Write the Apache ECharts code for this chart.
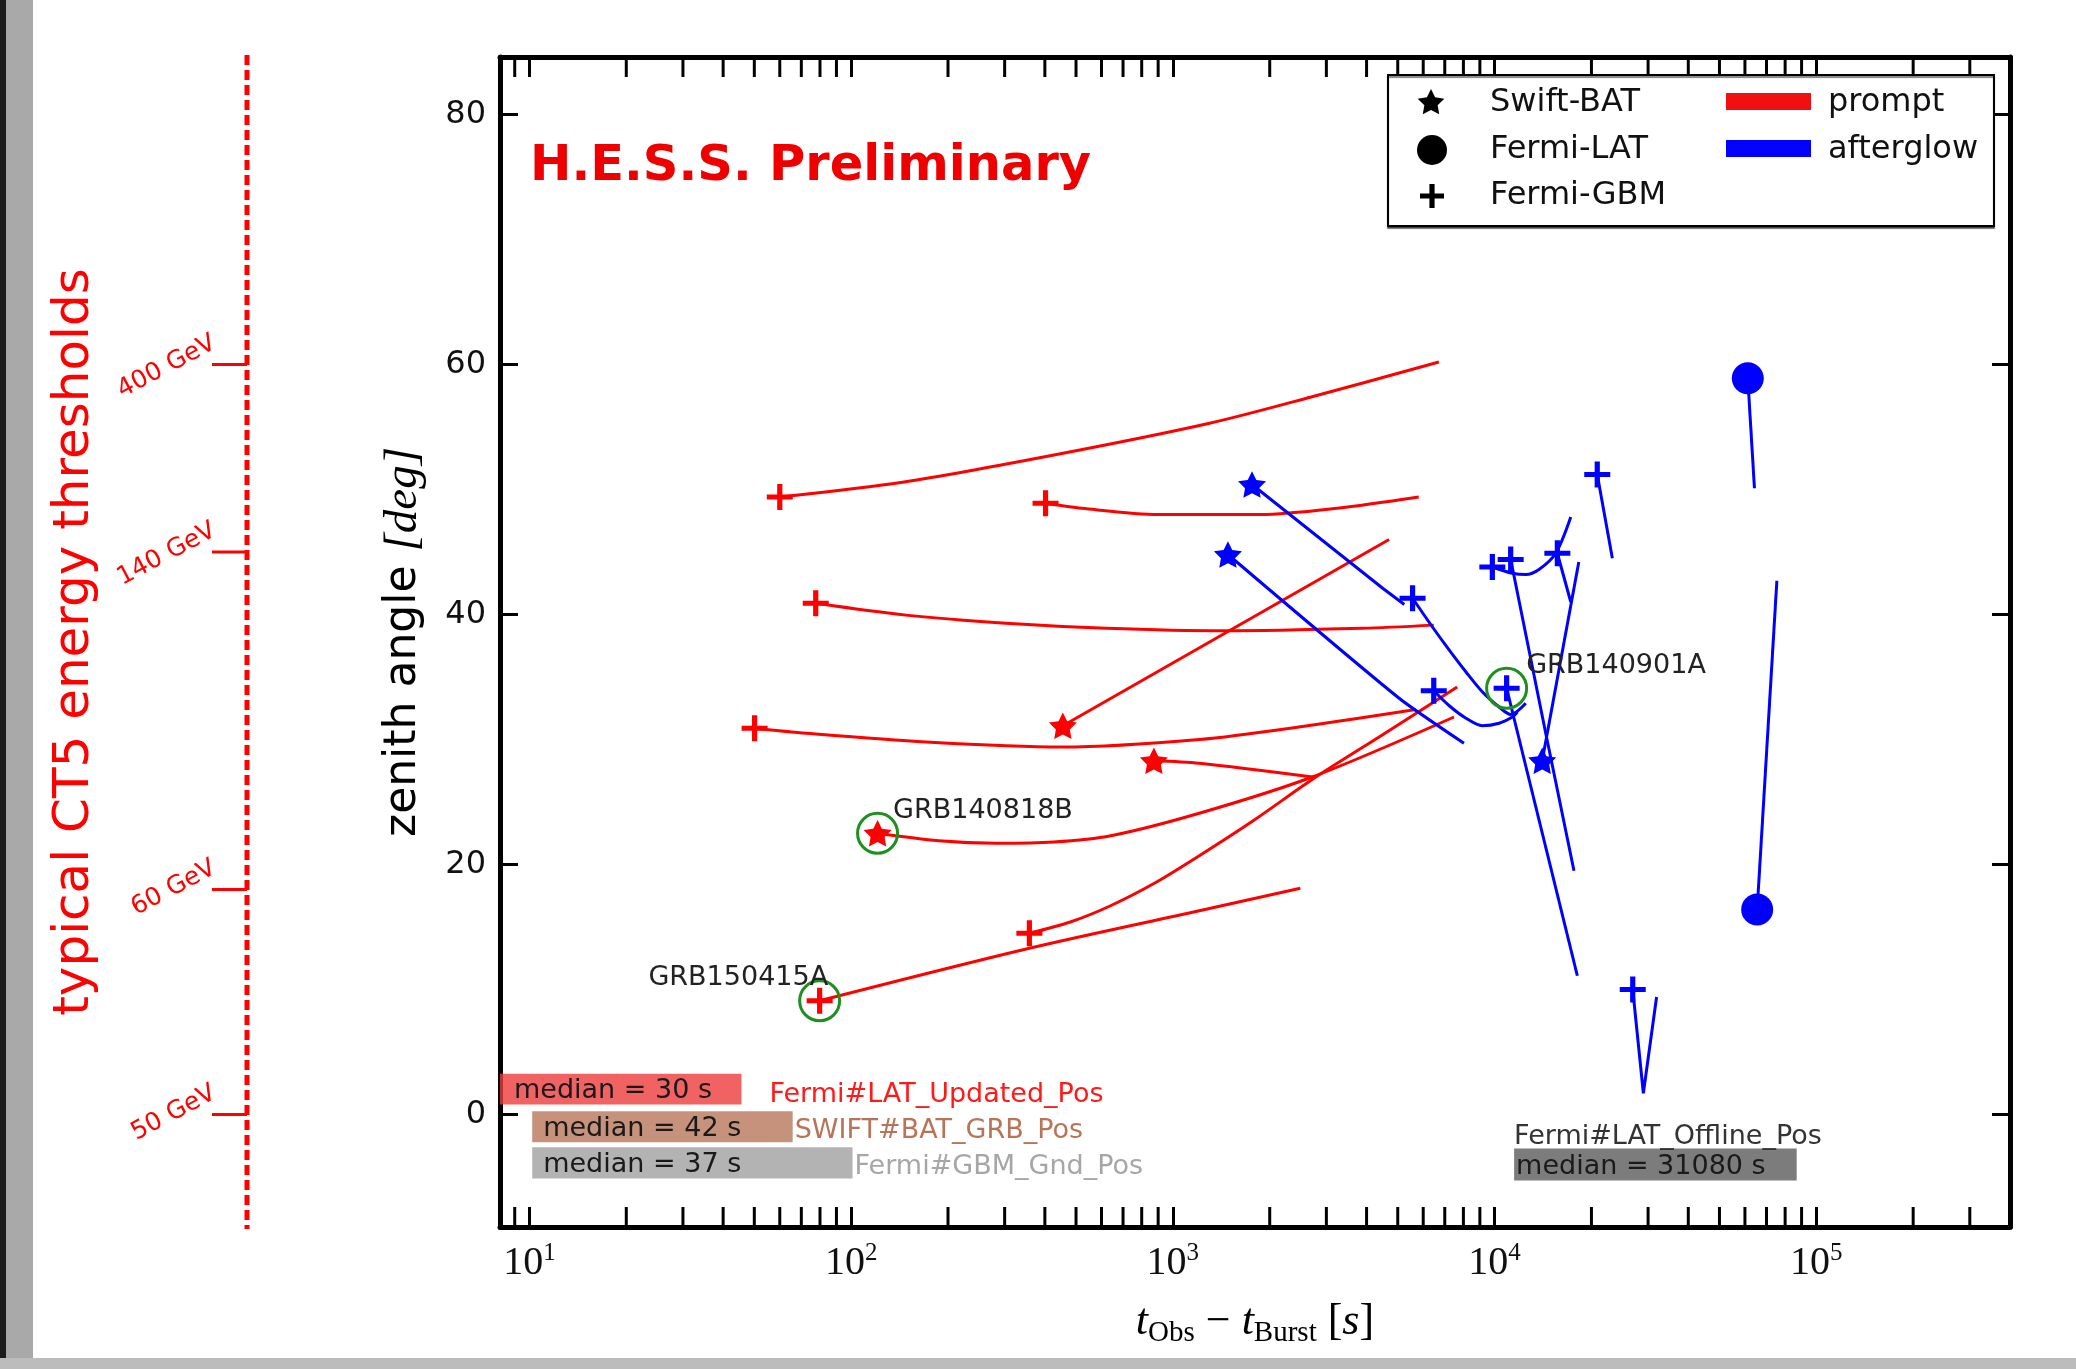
<!DOCTYPE html>
<html><head><meta charset="utf-8">
<script src="https://cdn.jsdelivr.net/npm/echarts@6/dist/echarts.min.js"></script>
<style>html,body{margin:0;padding:0;background:#fff;overflow:hidden}#c{width:2076px;height:1369px}</style>
</head><body><div id="c"></div>
<script>
// ---------------- DATA (x: t_Obs - t_Burst [s], y: zenith angle [deg]) ----------------
// prompt tracks (red)
const promptGBM1 = [[60,49.4],[146,50.6],[435,52.8],[1300,55.3],[2690,57.4],[6710,60.2]];
const promptGBM2 = [[402,48.9],[522,48.5],[902,48.0],[1870,48.0],[3240,48.5],[5810,49.4]];
const promptGBM3 = [[77.6,40.9],[148,39.95],[303,39.3],[621,38.9],[1430,38.7],[3880,38.9],[6470,39.15]];
const promptGBM4 = [[50.1,30.9],[72.6,30.5],[171,29.8],[450,29.4],[1208,30.0],[2620,31.1],[5690,32.4]];
const promptBAT1 = [[455,31.1],[4700,46.0]];
const promptBAT2 = [[873,28.3],[1208,28.1],[2716,27.0]];
const promptBAT3 = [[120.8,22.5],[187,21.9],[282,21.7],[426,21.8],[641,22.3],[1208,24.1],[2710,27.0],[7480,31.8]];
const promptGBM5 = [[358,14.5],[480,15.4],[640,16.7],[890,18.6],[1208,20.7],[1800,23.6],[2710,26.8],[4500,30.4],[7650,34.2]];
const promptGBM6 = [[79.8,9.1],[358,13.3],[1208,16.3],[2490,18.1]];
// afterglow tracks (blue)
const afterBAT1 = [[1762,50.4],[4490,42.1],[5240,40.8]];
const afterBAT2 = [[1483,44.8],[5050,33.3],[8030,29.7]];
const afterGBM1 = [[5560,41.3],[6410,39.0],[7230,37.15],[8150,35.4],[9170,33.8],[10330,32.6],[11220,32.0],[12500,32.9]];
const afterGBM2 = [[6470,33.9],[7230,32.7],[8150,31.7],[9170,31.1],[10330,31.3],[11350,31.8],[11780,32.2]];
const afterGBM3 = [[9840,43.8],[11350,43.3],[12500,43.2],[13740,43.6],[15490,44.9],[17250,47.8]];
const afterGBM4 = [[11220,44.4],[11510,43.0],[14420,30.5],[17650,19.5]];
const afterBAT3 = [[14060,28.3],[18270,44.2]];
const afterGBM5 = [[15670,44.9],[17250,41.0]];
const afterGBM6 = [[20850,51.2],[23230,44.5]];
const afterGBM7 = [[26880,10.0],[29000,1.7],[31880,9.4]];
const afterLAT1 = [[61240,58.9],[64230,50.1]];
const afterLAT2 = [[65490,16.4],[75400,42.7]];
const afterGBM8 = [[10900,34.1],[18080,11.1]];
// highlighted bursts
const grbNames = ['GRB140818B','GRB150415A','GRB140901A'];
const grbTracks = [promptBAT3, promptGBM6, afterGBM8];
// axis ticks
const yTicks = [0,20,40,60,80];
const xMinorTicks = [9,20,30,40,50,60,70,80,90,200,300,400,500,600,700,800,900,2000,3000,4000,5000,6000,7000,8000,9000,20000,30000,40000,50000,60000,70000,80000,90000,200000,300000];
// CT5 thresholds
const ct5Zenith = [60,45,18,0];
const ct5Labels = ['400 GeV','140 GeV','60 GeV','50 GeV'];
// median delay boxes
const medianTexts = ['median = 30 s','median = 42 s','median = 37 s','median = 31080 s'];
const medianSources = ['Fermi#LAT_Updated_Pos','SWIFT#BAT_GRB_Pos','Fermi#GBM_Gnd_Pos','Fermi#LAT_Offline_Pos'];
const medianX0 = [8.1,10.2,10.2,11500];
const medianX1 = [45.6,65.8,101,86900];
const medianY0 = [0.8,-2.22,-5.12,-5.28];
const medianY1 = [3.26,0.26,-2.62,-2.72];

// ---------------- LAYOUT / STYLE ----------------
const X_MIN = 8.1, X_MAX = 4.0e5, Y_MIN = -9, Y_MAX = 84.6;
const SANS = "'DejaVu Sans', sans-serif";
const SERIF = "'Liberation Serif', 'DejaVu Serif', serif";
const RED = '#ff0000', BLUE = '#0000ff', GREEN = '#1f8f1f';
const STAR = 'path://M0,-10L2.939,-4.045L9.511,-3.09L4.755,1.545L5.878,8.09L0,5L-5.878,8.09L-4.755,1.545L-9.511,-3.09L-2.939,-4.045Z';
const PLUS = 'path://M-2.4,-12H2.4V-2.4H12V2.4H2.4V12H-2.4V2.4H-12V-2.4H-2.4Z';
const TICK = 20;

const promptTracks = [
  {d: promptGBM1, m: 'GBM', s: 0.3}, {d: promptGBM2, m: 'GBM', s: 0.3}, {d: promptGBM3, m: 'GBM', s: 0.3},
  {d: promptGBM4, m: 'GBM', s: 0.3}, {d: promptBAT1, m: 'BAT', s: 0}, {d: promptBAT2, m: 'BAT', s: 0.3},
  {d: promptBAT3, m: 'BAT', s: 0.3}, {d: promptGBM5, m: 'GBM', s: 0.3}, {d: promptGBM6, m: 'GBM', s: 0.3}
];
const afterTracks = [
  {d: afterBAT1, m: 'BAT', s: 0}, {d: afterBAT2, m: 'BAT', s: 0.2}, {d: afterGBM1, m: 'GBM', s: 0.3},
  {d: afterGBM2, m: 'GBM', s: 0.3}, {d: afterGBM3, m: 'GBM', s: 0.3}, {d: afterGBM4, m: 'GBM', s: 0},
  {d: afterBAT3, m: 'BAT', s: 0}, {d: afterGBM5, m: 'GBM', s: 0}, {d: afterGBM6, m: 'GBM', s: 0},
  {d: afterGBM7, m: 'GBM', s: 0}, {d: afterLAT1, m: 'LAT', s: 0}, {d: afterLAT2, m: 'LAT', s: 0},
  {d: afterGBM8, m: 'GBM', s: 0}
];
const markerSym = {BAT: [STAR, 28], GBM: [PLUS, 26], LAT: ['circle', 32]};
const grbLabelLayout = [
  {position: 'right', distance: 0, offset: [-6, -22]},
  {position: 'left', distance: 0, offset: [30, -23]},
  {position: 'right', distance: 0, offset: [-2, -22]}
];
const medianFill = ['rgba(238,60,60,0.8)','rgba(180,110,80,0.75)','rgba(160,160,160,0.8)','rgba(110,110,110,0.9)'];
const medianSrcColor = ['#ff1a1a','#b87458','#a6a6a6','#333333'];

const chart = echarts.init(document.getElementById('c'), null, {renderer: 'canvas', width: 2076, height: 1369});

const series = [];
function addTracks(list, color, z) {
  list.forEach(t => series.push({
    type: 'line', data: t.d, symbol: 'none', showSymbol: false, smooth: t.s,
    lineStyle: {color: color, width: 3}, z: z, silent: true, animation: false
  }));
  ['BAT','GBM','LAT'].forEach(k => {
    const pts = list.filter(t => t.m === k).map(t => t.d[0]);
    if (!pts.length) return;
    series.push({type: 'scatter', data: pts, symbol: markerSym[k][0], symbolSize: markerSym[k][1],
      symbolKeepAspect: true, itemStyle: {color: color, opacity: 1}, z: z + 2, silent: true, animation: false});
  });
}
addTracks(promptTracks, RED, 3);
addTracks(afterTracks, BLUE, 4);

// green circles with labels
series.push({
  type: 'scatter', z: 8, silent: true, animation: false,
  symbol: 'circle', symbolSize: 40,
  itemStyle: {color: 'rgba(0,0,0,0)', borderColor: GREEN, borderWidth: 3, opacity: 1},
  data: grbTracks.map((t, i) => ({
    value: t[0], name: grbNames[i],
    label: Object.assign({show: true, formatter: grbNames[i], color: '#222', fontFamily: SANS, fontSize: 27}, grbLabelLayout[i])
  }))
});

// minor ticks (bottom and top) through the x scale
series.push({
  type: 'custom', z: 10, silent: true, animation: false, clip: false,
  data: xMinorTicks.map(v => [v, Y_MIN]),
  encode: {x: 0, y: 1},
  renderItem: (params, api) => {
    const v = api.value(0);
    const b = api.coord([v, Y_MIN]);
    const t = api.coord([v, Y_MAX]);
    return {type: 'group', children: [
      {type: 'line', shape: {x1: b[0], y1: b[1], x2: b[0], y2: b[1] - TICK}, style: {stroke: '#000', lineWidth: 3}},
      {type: 'line', shape: {x1: t[0], y1: t[1], x2: t[0], y2: t[1] + TICK}, style: {stroke: '#000', lineWidth: 3}}
    ]};
  }
});

// median boxes
series.push({
  type: 'custom', z: 2, silent: true, animation: false, clip: false,
  data: medianX0.map((x, i) => [x, medianY0[i]]),
  encode: {x: 0, y: 1},
  renderItem: (params, api) => {
    const i = params.dataIndex;
    const p0 = api.coord([medianX0[i], medianY1[i]]);
    const p1 = api.coord([medianX1[i], medianY0[i]]);
    const midY = (p0[1] + p1[1]) / 2;
    const last = i === 3;
    const children = [
      {type: 'rect', shape: {x: p0[0], y: p0[1], width: p1[0] - p0[0], height: p1[1] - p0[1]}, style: {fill: medianFill[i]}},
      {type: 'text', style: {text: medianTexts[i], x: p0[0] + (i === 0 ? 14 : (last ? 2 : 11)), y: midY + 2,
        verticalAlign: 'middle', align: 'left', font: '27px ' + SANS, fill: '#1a1a1a'}}
    ];
    if (last) {
      children.push({type: 'text', style: {text: medianSources[i], x: p0[0], y: p0[1] + 2, verticalAlign: 'bottom', align: 'left',
        font: '27px ' + SANS, fill: medianSrcColor[i]}});
    } else {
      children.push({type: 'text', style: {text: medianSources[i], x: p1[0] + (i === 0 ? 28 : 2), y: midY + (i === 0 ? 6 : 4),
        verticalAlign: 'middle', align: 'left', font: '27px ' + SANS, fill: medianSrcColor[i]}});
    }
    return {type: 'group', children};
  }
});

const xLabelFmt = v => {
  const l = Math.log10(v), e = Math.round(l);
  if (Math.abs(l - e) > 1e-6) return '';
  return '{b|10}{s|' + e + '}';
};
const axisLineStyle = {show: true, onZero: false, lineStyle: {color: '#000', width: 5}};
const xAxisBase = {
  type: 'log', logBase: 10, min: X_MIN, max: X_MAX, splitLine: {show: false},
  axisLine: axisLineStyle,
  axisTick: {show: true, inside: true, length: TICK, lineStyle: {color: '#000', width: 3}}
};
const yAxisBase = {
  type: 'value', min: Y_MIN, max: Y_MAX, splitLine: {show: false},
  axisLine: axisLineStyle,
  axisTick: {show: true, inside: true, length: 18, customValues: yTicks, lineStyle: {color: '#000', width: 3}}
};

chart.setOption({
  animation: false,
  backgroundColor: '#ffffff',
  grid: {left: 500, top: 57, width: 1510, height: 1170, containLabel: false, outerBoundsMode: 'none'},
  xAxis: [
    Object.assign({}, xAxisBase, {position: 'bottom',
      axisLabel: {show: true, showMinLabel: false, showMaxLabel: false, margin: 14, formatter: xLabelFmt,
        rich: {b: {fontFamily: SERIF, fontSize: 40, color: '#111', lineHeight: 44, verticalAlign: 'middle'},
               s: {fontFamily: SERIF, fontSize: 25, color: '#111', lineHeight: 25, verticalAlign: 'top'}}}}),
    Object.assign({}, xAxisBase, {position: 'top', axisLabel: {show: false}})
  ],
  yAxis: [
    Object.assign({}, yAxisBase, {position: 'left',
      axisLabel: {show: true, customValues: yTicks, margin: 14, fontFamily: SANS, fontSize: 32, color: '#111'}}),
    Object.assign({}, yAxisBase, {position: 'right', axisLabel: {show: false}})
  ],
  series: series
});

// ---------------- annotations ----------------
function starPoints(cx, cy, R, r) {
  const pts = [];
  for (let k = 0; k < 10; k++) {
    const a = -Math.PI / 2 + k * Math.PI / 5;
    const rr = k % 2 ? r : R;
    pts.push([cx + rr * Math.cos(a), cy + rr * Math.sin(a)]);
  }
  return pts;
}
function plusPoints(cx, cy, h, w) {
  return [[cx - w, cy - h], [cx + w, cy - h], [cx + w, cy - w], [cx + h, cy - w], [cx + h, cy + w], [cx + w, cy + w],
          [cx + w, cy + h], [cx - w, cy + h], [cx - w, cy + w], [cx - h, cy + w], [cx - h, cy - w], [cx - w, cy - w]];
}
const yPix = v => chart.convertToPixel({yAxisIndex: 0}, v);
const yTop = yPix(Y_MAX), yBot = yPix(Y_MIN);
const CT5_X = 247;
const graphics = [
  // photo frame edges
  {type: 'rect', shape: {x: 0, y: 0, width: 33, height: 1369}, style: {fill: '#a9a9a9'}, z: 0},
  {type: 'rect', shape: {x: 0, y: 0, width: 6, height: 1369}, style: {fill: '#1c1c1c'}, z: 0},
  {type: 'rect', shape: {x: 0, y: 1358, width: 2076, height: 11}, style: {fill: '#bcbcbc'}, z: 0},
  // CT5 axis
  {type: 'line', shape: {x1: CT5_X, y1: yTop - 2, x2: CT5_X, y2: yBot + 2},
    style: {stroke: RED, lineWidth: 5, lineDash: [10, 5]}},
  {type: 'text', x: 75, y: (yTop + yBot) / 2, rotation: Math.PI / 2,
    style: {text: 'typical CT5 energy thresholds', align: 'center', verticalAlign: 'middle', font: '50px ' + SANS, fill: RED}},
  // y axis title
  {type: 'text', x: 404, y: (yTop + yBot) / 2, rotation: Math.PI / 2,
    style: {text: '{a|zenith angle }{b|[deg]}', align: 'center', verticalAlign: 'middle',
      rich: {a: {font: '44px ' + SANS, fill: '#000'}, b: {font: 'italic 47px ' + SERIF, fill: '#000'}}}},
  // x axis title
  {type: 'text', x: 1255, y: 1322,
    style: {text: '{i|t}{u|Obs}{n| − }{i|t}{u|Burst}{n| [}{i|s}{n|]}', align: 'center', verticalAlign: 'middle',
      rich: {i: {font: 'italic 44px ' + SERIF, fill: '#000', lineHeight: 52, verticalAlign: 'middle'},
             n: {font: '44px ' + SERIF, fill: '#000', lineHeight: 52, verticalAlign: 'middle'},
             u: {font: '29px ' + SERIF, fill: '#000', lineHeight: 29, verticalAlign: 'bottom'}}}},
  // H.E.S.S. Preliminary
  {type: 'text', x: 530, y: 167, style: {text: 'H.E.S.S. Preliminary', align: 'left', verticalAlign: 'middle',
    font: 'bold 49.5px ' + SANS, fill: '#ee0000'}, z: 20},
  // legend
  {type: 'rect', shape: {x: 1388, y: 75, width: 606, height: 151}, style: {fill: '#fff', stroke: '#000', lineWidth: 2,
    shadowColor: 'rgba(0,0,0,0.5)', shadowOffsetY: 2, shadowBlur: 1}, z: 20},
  {type: 'polygon', shape: {points: starPoints(1431, 103, 14, 7)}, style: {fill: '#000'}, z: 21},
  {type: 'circle', shape: {cx: 1432, cy: 150, r: 15}, style: {fill: '#000'}, z: 21},
  {type: 'polygon', shape: {points: plusPoints(1432, 196, 12, 2.6)}, style: {fill: '#000'}, z: 21},
  {type: 'text', x: 1490, y: 103, style: {text: 'Swift-BAT', font: '32px ' + SANS, fill: '#111', verticalAlign: 'middle'}, z: 21},
  {type: 'text', x: 1490, y: 150, style: {text: 'Fermi-LAT', font: '32px ' + SANS, fill: '#111', verticalAlign: 'middle'}, z: 21},
  {type: 'text', x: 1490, y: 196, style: {text: 'Fermi-GBM', font: '32px ' + SANS, fill: '#111', verticalAlign: 'middle'}, z: 21},
  {type: 'rect', shape: {x: 1726, y: 93, width: 85, height: 17}, style: {fill: '#f01010'}, z: 21},
  {type: 'rect', shape: {x: 1726, y: 140, width: 85, height: 17}, style: {fill: BLUE}, z: 21},
  {type: 'text', x: 1828, y: 103, style: {text: 'prompt', font: '32px ' + SANS, fill: '#111', verticalAlign: 'middle'}, z: 21},
  {type: 'text', x: 1828, y: 150, style: {text: 'afterglow', font: '32px ' + SANS, fill: '#111', verticalAlign: 'middle'}, z: 21}
];
ct5Zenith.forEach((z, i) => {
  const y = yPix(z);
  graphics.push({type: 'line', shape: {x1: 212, y1: y, x2: CT5_X, y2: y}, style: {stroke: RED, lineWidth: 3}});
  graphics.push({type: 'text', x: 220, y: y - 12, rotation: 28 * Math.PI / 180,
    style: {text: ct5Labels[i], x: 0, y: 0, align: 'right', verticalAlign: 'bottom', font: '25px ' + SANS, fill: RED}});
});
chart.setOption({graphic: graphics});
</script>
</body></html>
